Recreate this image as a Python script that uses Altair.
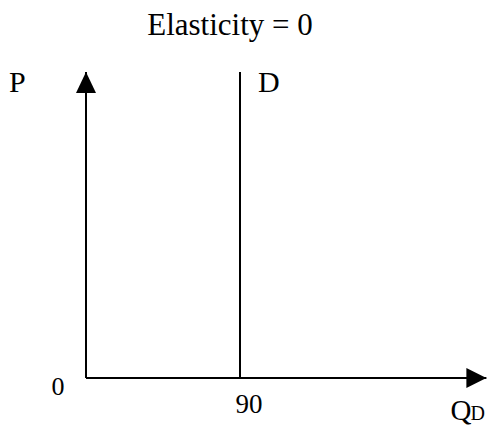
import altair as alt
import pandas as pd

# Perfectly inelastic demand: quantity demanded stays at 90 whatever the price
elasticity = 0
quantity_demanded = 90
price_axis_max = 100
quantity_axis_max = 234

title_text = f"Elasticity = {elasticity}"
price_label = "P"
demand_label = "D"
origin_label = "0"
quantity_label = "Q"
quantity_subscript = "D"

SERIF = "Liberation Serif"

x_scale = alt.Scale(domain=[0, quantity_demanded], range=[86, 240], nice=False, zero=False)
y_scale = alt.Scale(domain=[0, price_axis_max], range=[378, 72], nice=False, zero=False)

axes_df = pd.DataFrame({
    "q": [0, 0],
    "q2": [0, quantity_axis_max],
    "p": [0, 0],
    "p2": [price_axis_max, 0],
})
demand_df = pd.DataFrame({"q": [quantity_demanded], "p": [0], "p2": [price_axis_max]})
up_tip_df = pd.DataFrame({"q": [0], "p": [price_axis_max]})
right_tip_df = pd.DataFrame({"q": [quantity_axis_max], "p": [0]})
title_df = pd.DataFrame({"q": [quantity_demanded], "p": [price_axis_max], "label": [title_text]})
demand_top_df = pd.DataFrame({"q": [quantity_demanded], "p": [price_axis_max], "label": [demand_label]})
y_top_df = pd.DataFrame({"q": [0], "p": [price_axis_max], "label": [price_label]})
origin_df = pd.DataFrame({"q": [0], "p": [0], "label": [origin_label]})
tick_df = pd.DataFrame({"q": [quantity_demanded], "p": [0], "label": [str(quantity_demanded)]})
q_df = pd.DataFrame({"q": [quantity_axis_max], "p": [0], "label": [quantity_label]})
q_sub_df = pd.DataFrame({"q": [quantity_axis_max], "p": [0], "label": [quantity_subscript]})

X = alt.X("q:Q", scale=x_scale, axis=None)
Y = alt.Y("p:Q", scale=y_scale, axis=None)

axis_lines = alt.Chart(axes_df).mark_rule(color="black", strokeWidth=2).encode(
    x=X, x2="q2:Q", y=Y, y2="p2:Q"
)
demand_line = alt.Chart(demand_df).mark_rule(color="black", strokeWidth=2).encode(
    x=X, y=Y, y2="p2:Q"
)
up_arrow = alt.Chart(up_tip_df).mark_point(
    shape="M0,0L-1,2.1L1,2.1Z", size=400, filled=True, color="black", opacity=1, strokeWidth=0
).encode(x=X, y=Y)
right_arrow = alt.Chart(right_tip_df).mark_point(
    shape="M0,0L-2,-1L-2,1Z", size=400, filled=True, color="black", opacity=1, strokeWidth=0
).encode(x=X, y=Y)


def label(df, size, dx, dy, align="left"):
    return alt.Chart(df).mark_text(
        font=SERIF, fontSize=size, color="black", align=align,
        baseline="alphabetic", dx=dx, dy=dy
    ).encode(x=X, y=Y, text="label:N")


chart = alt.layer(
    axis_lines,
    demand_line,
    up_arrow,
    right_arrow,
    label(title_df, 31, -10, -37, align="center"),
    label(y_top_df, 30, -77, 20),
    label(demand_top_df, 30, 18, 20),
    label(origin_df, 26, -28, 17, align="center"),
    label(tick_df, 27, 9, 35, align="center"),
    label(q_df, 29, -36, 42),
    label(q_sub_df, 20, -16, 42),
).properties(
    width=490,
    height=426,
    padding=0,
    background="white",
    autosize=alt.AutoSizeParams(type="none"),
).configure_view(stroke=None)

chart.save("out.html", embed_options={"renderer": "svg", "actions": False})
